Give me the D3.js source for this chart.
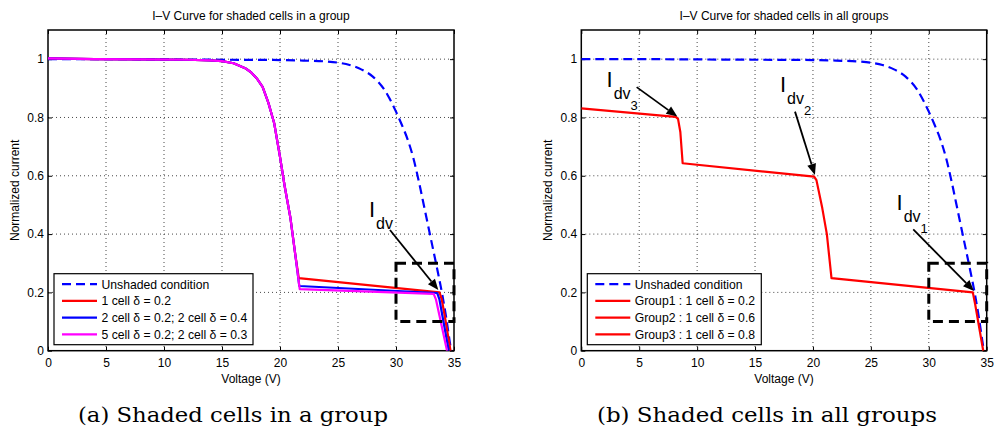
<!DOCTYPE html>
<html><head><meta charset="utf-8">
<script src="https://cdn.jsdelivr.net/npm/d3@7"></script>
<style>body{margin:0;background:#fff}svg{display:block}</style>
</head><body><svg id="c" width="994" height="435"></svg>
<script>
// ---------- data ----------
const titles = ["I\u2013V Curve for shaded cells in a group", "I\u2013V Curve for shaded cells in all groups"];
const captions = ["(a) Shaded cells in a group", "(b) Shaded cells in all groups"];
const xLabel = "Voltage (V)";
const yLabel = "Normalized current";
const xTicks = [0, 5, 10, 15, 20, 25, 30, 35];
const yTicks = [0, 0.2, 0.4, 0.6, 0.8, 1];
const yTickLabels = ["0", "0.2", "0.4", "0.6", "0.8", "1"];
const xDomain = [0, 35];
const yDomain = [0, 1.1];

const unshadedV = [0, 5, 10, 15, 20, 22, 24, 25, 26, 27, 28, 29, 30, 30.5, 31, 31.5, 32, 32.5, 33, 33.5, 34, 34.3, 34.6, 34.75];
const unshadedI = [1, 1, 0.999, 0.998, 0.997, 0.995, 0.992, 0.988, 0.98, 0.965, 0.94, 0.895, 0.82, 0.775, 0.725, 0.66, 0.575, 0.48, 0.385, 0.29, 0.19, 0.12, 0.04, 0];

const oneCellV = [0, 4, 8, 12, 14, 15, 16, 17, 17.5, 18, 18.5, 19, 19.5, 20, 20.4, 20.9, 21.3, 21.62, 33.75, 33.95, 34.2, 34.7];
const oneCellI = [1.003, 1.0, 0.999, 0.998, 0.996, 0.993, 0.986, 0.969, 0.955, 0.934, 0.905, 0.85, 0.78, 0.665, 0.565, 0.455, 0.335, 0.249, 0.2, 0.175, 0.12, 0];

const twoCellV = [0, 4, 8, 12, 14, 15, 16, 17, 17.5, 18, 18.5, 19, 19.5, 20, 20.4, 20.9, 21.3, 21.66, 33.55, 33.75, 34.0, 34.55];
const twoCellI = [1.003, 1.0, 0.999, 0.998, 0.996, 0.993, 0.986, 0.969, 0.955, 0.934, 0.905, 0.85, 0.78, 0.665, 0.565, 0.455, 0.335, 0.222, 0.198, 0.175, 0.12, 0];

const fiveCellV = [0, 4, 8, 12, 14, 15, 16, 17, 17.5, 18, 18.5, 19, 19.5, 20, 20.4, 20.9, 21.3, 21.7, 33.25, 33.45, 33.75, 34.4];
const fiveCellI = [1.003, 1.0, 0.999, 0.998, 0.996, 0.993, 0.986, 0.969, 0.955, 0.934, 0.905, 0.85, 0.78, 0.665, 0.565, 0.455, 0.335, 0.211, 0.195, 0.175, 0.12, 0];

const allGroupsV = [0, 8.15, 8.35, 8.55, 8.75, 20.1, 20.3, 20.8, 21.2, 21.6, 33.8, 34.0, 34.7];
const allGroupsI = [0.831, 0.802, 0.795, 0.75, 0.643, 0.597, 0.585, 0.49, 0.40, 0.249, 0.2, 0.16, 0];

const legendA = ["Unshaded condition", "1 cell \u03b4 = 0.2", "2 cell \u03b4 = 0.2; 2 cell \u03b4 = 0.4", "5 cell \u03b4 = 0.2; 2 cell \u03b4 = 0.3"];
const legendB = ["Unshaded condition", "Group1 : 1 cell \u03b4 = 0.2", "Group2 : 1 cell \u03b4 = 0.6", "Group3 : 1 cell \u03b4 = 0.8"];
const colorsA = ["#0000ff", "#ff0000", "#0000ff", "#ff00ff"];
const colorsB = ["#0000ff", "#ff0000", "#ff0000", "#ff0000"];

const zoomBoxV = [30, 35];
const zoomBoxI = [0.1, 0.3];

// annotations: label position, subscript number, arrow start and end (data units)
const annotA = [{tV: 27.67, tI: 0.459, num: "", sV: 29.48, sI: 0.414, eV: 33.65, eI: 0.208}];
const annotB = [
  {tV: 2.18, tI: 0.906, num: "3", sV: 4.78, sI: 0.904, eV: 8.29, eI: 0.803},
  {tV: 17.15, tI: 0.889, num: "2", sV: 18.45, sI: 0.82, eV: 20.17, eI: 0.603},
  {tV: 27.22, tI: 0.483, num: "1", sV: 28.66, sI: 0.416, eV: 33.9, eI: 0.205}
];

// ---------- drawing ----------
const svg = d3.select("#c");
svg.append("rect").attr("width", 994).attr("height", 435).attr("fill", "#fff");
const FONT = "'Liberation Sans', Arial, Helvetica, sans-serif";

function panel(opt) {
  const {x0, x1, y0, y1} = opt;
  const x = d3.scaleLinear().domain(xDomain).range([x0, x1]);
  const y = d3.scaleLinear().domain(yDomain).range([y1, y0]);
  const g = svg.append("g");
  const clipId = "clip" + opt.id;
  svg.append("clipPath").attr("id", clipId).append("rect")
    .attr("x", x0).attr("y", y0).attr("width", x1 - x0).attr("height", y1 - y0);

  // grid
  g.selectAll(".gx").data(xTicks.filter(t => t > 0 && t < 35)).enter().append("line")
    .attr("x1", d => x(d)).attr("x2", d => x(d)).attr("y1", y0).attr("y2", y1)
    .attr("stroke", "#333").attr("stroke-width", 0.9).attr("stroke-dasharray", "1,3");
  g.selectAll(".gy").data(yTicks.filter(t => t > 0)).enter().append("line")
    .attr("y1", d => y(d)).attr("y2", d => y(d)).attr("x1", x0).attr("x2", x1)
    .attr("stroke", "#333").attr("stroke-width", 0.9).attr("stroke-dasharray", "1,3");

  // axes via d3 axes (ticks inward)
  const ax = g.append("g").attr("transform", `translate(0,${y1})`)
    .call(d3.axisBottom(x).tickValues(xTicks).tickFormat(d3.format("d")).tickSize(-4).tickPadding(8));
  const ay = g.append("g").attr("transform", `translate(${x0},0)`)
    .call(d3.axisLeft(y).tickValues(yTicks).tickFormat((d, i) => yTickLabels[i]).tickSize(-4).tickPadding(4));
  const axT = g.append("g").attr("transform", `translate(0,${y0})`)
    .call(d3.axisTop(x).tickValues(xTicks).tickSize(-4).tickFormat(""));
  const ayR = g.append("g").attr("transform", `translate(${x1},0)`)
    .call(d3.axisRight(y).tickValues(yTicks).tickSize(-4).tickFormat(""));
  [ax, ay, axT, ayR].forEach(a => {
    a.select(".domain").remove();
    a.selectAll("line").attr("stroke", "#000").attr("stroke-width", 1);
    a.selectAll("text").attr("font-family", FONT).attr("font-size", 12).attr("fill", "#000");
  });
  ax.selectAll("text").attr("dy", "0.71em");
  g.append("rect").attr("x", x0).attr("y", y0).attr("width", x1 - x0).attr("height", y1 - y0)
    .attr("fill", "none").attr("stroke", "#000").attr("stroke-width", 1.5);

  // title + labels
  g.append("text").attr("x", (x0 + x1) / 2).attr("y", 20).attr("text-anchor", "middle")
    .attr("font-family", FONT).attr("font-size", 12).text(opt.title);
  g.append("text").attr("x", (x0 + x1) / 2).attr("y", 383).attr("text-anchor", "middle")
    .attr("font-family", FONT).attr("font-size", 12).text(xLabel);
  g.append("text").attr("transform", `translate(${x0 - 29},${(y0 + y1) / 2}) rotate(-90)`)
    .attr("text-anchor", "middle").attr("font-family", FONT).attr("font-size", 12).text(yLabel);
  svg.append("text").attr("x", opt.capX).attr("y", 422).attr("text-anchor", "middle")
    .attr("font-family", "'DejaVu Serif', 'Liberation Serif', serif").attr("font-size", 19.5)
    .attr("textLength", opt.capW).attr("lengthAdjust", "spacingAndGlyphs").text(opt.caption);

  // curves
  const line = d3.line().x(d => x(d[0])).y(d => y(d[1]));
  const cg = g.append("g").attr("clip-path", `url(#${clipId})`);
  opt.series.forEach(s => {
    const pts = s.v.map((v, i) => [v, s.i[i]]);
    cg.append("path").datum(pts).attr("d", line.curve(s.smooth ? d3.curveMonotoneX : d3.curveLinear))
      .attr("fill", "none").attr("stroke", s.color).attr("stroke-width", s.w || 2.2)
      .attr("stroke-dasharray", s.dash || null).attr("stroke-linejoin", "round");
  });

  // zoom box
  g.append("rect").attr("x", x(zoomBoxV[0])).attr("y", y(zoomBoxI[1]))
    .attr("width", x(zoomBoxV[1]) - x(zoomBoxV[0])).attr("height", y(zoomBoxI[0]) - y(zoomBoxI[1]))
    .attr("fill", "none").attr("stroke", "#000").attr("stroke-width", 3).attr("stroke-dasharray", "10,6");

  // annotations
  opt.annots.forEach(a => {
    const sx = x(a.sV), sy = y(a.sI), ex = x(a.eV), ey = y(a.eI);
    const ang = Math.atan2(ey - sy, ex - sx), L = 11, W = 4.5;
    const bx = ex - L * Math.cos(ang), by = ey - L * Math.sin(ang);
    g.append("line").attr("x1", sx).attr("y1", sy).attr("x2", bx).attr("y2", by)
      .attr("stroke", "#000").attr("stroke-width", 1.8);
    g.append("path").attr("d", `M${ex},${ey}L${bx + W * Math.sin(ang)},${by - W * Math.cos(ang)}L${bx - W * Math.sin(ang)},${by + W * Math.cos(ang)}Z`)
      .attr("fill", "#000");
    const tx = x(a.tV), ty = y(a.tI);
    const t = g.append("text").attr("x", tx).attr("y", ty).attr("font-family", FONT).attr("fill", "#000");
    t.append("tspan").attr("font-size", 22).text("I");
    t.append("tspan").attr("font-size", 16).attr("dy", 12).attr("dx", 1).text("dv");
    if (a.num) t.append("tspan").attr("font-size", 13).attr("dy", 11).text(a.num);
  });

  // legend
  const lx = x0 + 6, lw = opt.legendW, lh = 71, ly = y1 - 6 - lh;
  const lg = g.append("g");
  lg.append("rect").attr("x", lx).attr("y", ly).attr("width", lw).attr("height", lh)
    .attr("fill", "#fff").attr("stroke", "#000").attr("stroke-width", 1.2);
  opt.legend.forEach((lab, i) => {
    const yy = ly + 10.5 + i * 16.7;
    lg.append("line").attr("x1", lx + 8).attr("x2", lx + 43).attr("y1", yy).attr("y2", yy)
      .attr("stroke", opt.legendColors[i]).attr("stroke-width", 2.2)
      .attr("stroke-dasharray", i === 0 ? "9,5" : null);
    lg.append("text").attr("x", lx + 47.5).attr("y", yy + 4.3).attr("font-family", FONT)
      .attr("font-size", 12.2).attr("fill", "#000").text(lab);
  });
}

panel({
  id: "a", x0: 48, x1: 454, y0: 30, y1: 350.7, title: titles[0], caption: captions[0], capX: 233, capW: 310,
  legend: legendA, legendColors: colorsA, legendW: 199, annots: annotA,
  series: [
    {v: unshadedV, i: unshadedI, color: "#0000ff", dash: "9,5", smooth: true},
    {v: oneCellV, i: oneCellI, color: "#ff0000"},
    {v: twoCellV, i: twoCellI, color: "#0000ff"},
    {v: fiveCellV, i: fiveCellI, color: "#ff00ff"}
  ]
});
panel({
  id: "b", x0: 581.3, x1: 986.7, y0: 30, y1: 350.7, title: titles[1], caption: captions[1], capX: 767, capW: 340,
  legend: legendB, legendColors: colorsB, legendW: 174, annots: annotB,
  series: [
    {v: unshadedV, i: unshadedI, color: "#0000ff", dash: "9,5", smooth: true},
    {v: allGroupsV, i: allGroupsI, color: "#ff0000"}
  ]
});
</script></body></html>
